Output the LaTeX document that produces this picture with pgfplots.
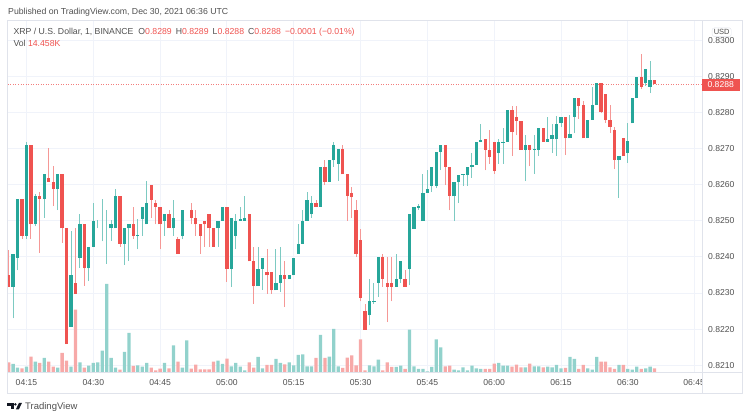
\documentclass[border=0pt]{standalone}
\usepackage{pgfplots}
\pgfplotsset{compat=1.18}
\usepackage{pgfplotstable}
\usepackage{fontspec}
\setmainfont{Liberation Sans}
\definecolor{tvred}{HTML}{EF5350}
\definecolor{tvgreen}{HTML}{26A69A}
\definecolor{gridc}{HTML}{F0F3FA}
\definecolor{borderc}{HTML}{E0E3EB}
\definecolor{txt}{HTML}{505050}
\definecolor{logoc}{HTML}{131722}
\newcommand\fs[1]{\fontsize{#1}{#1}\selectfont}

\pgfplotstableread{
t o h l c v
11 0.82349 0.82420 0.82318 0.82318 37.8
12 0.82318 0.82409 0.82230 0.82409 31.2
13 0.82398 0.82560 0.82363 0.82560 16.8
14 0.82560 0.82560 0.82450 0.82459 14.4
15 0.82459 0.82719 0.82450 0.82710 20.7
16 0.82710 0.82710 0.82450 0.82490 59.7
17 0.82490 0.82575 0.82485 0.82570 40.2
18 0.82570 0.82580 0.82411 0.82560 35.1
19 0.82560 0.82630 0.82509 0.82630 54.6
20 0.82619 0.82701 0.82608 0.82608 40.2
21 0.82608 0.82651 0.82541 0.82588 20.7
22 0.82588 0.82630 0.82530 0.82630 16.8
23 0.82630 0.82630 0.82439 0.82479 74.1
24 0.82479 0.82479 0.82158 0.82158 44.1
25 0.82207 0.82471 0.82207 0.82351 20.7
26 0.82329 0.82480 0.82298 0.82298 243.0
27 0.82398 0.82518 0.82370 0.82490 37.8
28 0.82490 0.82490 0.82320 0.82368 16.8
29 0.82368 0.82428 0.82333 0.82428 24.6
30 0.82428 0.82550 0.82428 0.82501 35.1
31 0.82479 0.82502 0.82479 0.82479 37.8
32 0.82479 0.82560 0.82443 0.82479 83.1
33 0.82479 0.82530 0.82381 0.82479 343.2
34 0.82479 0.82502 0.82445 0.82490 54.6
35 0.82479 0.82588 0.82479 0.82570 16.8
36 0.82570 0.82570 0.82428 0.82437 9.0
37 0.82437 0.82479 0.82379 0.82479 78.0
38 0.82479 0.82490 0.82389 0.82490 152.1
39 0.82490 0.82539 0.82450 0.82459 23.4
40 0.82459 0.82506 0.82421 0.82461 26.1
41 0.82506 0.82539 0.82459 0.82539 20.7
42 0.82490 0.82610 0.82490 0.82550 35.1
43 0.82599 0.82599 0.82509 0.82559 16.8
44 0.82550 0.82559 0.82490 0.82539 6.6
45 0.82539 0.82539 0.82421 0.82490 12.9
46 0.82500 0.82519 0.82459 0.82519 35.1
47 0.82519 0.82530 0.82479 0.82479 14.4
48 0.82479 0.82559 0.82459 0.82509 104.1
49 0.82449 0.82455 0.82409 0.82409 40.2
50 0.82459 0.82530 0.82449 0.82530 16.8
51 0.82530 0.82530 0.82530 0.82530 123.6
52 0.82530 0.82550 0.82490 0.82509 12.9
53 0.82509 0.82530 0.82459 0.82490 28.5
54 0.82490 0.82490 0.82409 0.82459 10.5
55 0.82500 0.82500 0.82428 0.82490 10.5
56 0.82519 0.82519 0.82428 0.82479 10.5
57 0.82479 0.82479 0.82428 0.82428 40.2
58 0.82479 0.82500 0.82428 0.82500 44.1
59 0.82500 0.82539 0.82500 0.82539 31.2
60 0.82539 0.82539 0.82331 0.82367 51.9
61 0.82367 0.82509 0.82317 0.82509 22.2
62 0.82459 0.82518 0.82421 0.82500 35.1
63 0.82500 0.82539 0.82500 0.82506 20.7
64 0.82500 0.82570 0.82500 0.82509 6.6
65 0.82518 0.82518 0.82388 0.82388 37.8
66 0.82389 0.82428 0.82270 0.82319 16.8
67 0.82319 0.82428 0.82319 0.82367 58.5
68 0.82367 0.82398 0.82309 0.82398 14.4
69 0.82358 0.82421 0.82298 0.82349 27.3
70 0.82358 0.82358 0.82298 0.82307 27.3
71 0.82307 0.82421 0.82307 0.82329 50.7
72 0.82329 0.82428 0.82303 0.82349 35.1
73 0.82349 0.82389 0.82261 0.82338 30.0
74 0.82338 0.82349 0.82338 0.82349 37.8
75 0.82349 0.82398 0.82349 0.82398 26.1
76 0.82409 0.82490 0.82409 0.82437 66.3
77 0.82437 0.82530 0.82437 0.82500 69.0
78 0.82500 0.82580 0.82500 0.82559 22.2
79 0.82518 0.82570 0.82509 0.82550 22.2
80 0.82550 0.82559 0.82539 0.82539 54.6
81 0.82539 0.82650 0.82539 0.82650 144.3
82 0.82650 0.82668 0.82599 0.82608 54.6
83 0.82608 0.82668 0.82608 0.82668 59.7
84 0.82668 0.82719 0.82650 0.82710 167.7
85 0.82659 0.82698 0.82611 0.82698 22.2
86 0.82698 0.82710 0.82629 0.82629 15.6
87 0.82629 0.82629 0.82500 0.82570 55.8
88 0.82578 0.82594 0.82509 0.82565 65.1
89 0.82529 0.82559 0.82400 0.82409 26.1
90 0.82448 0.82478 0.82277 0.82287 127.5
91 0.82249 0.82270 0.82198 0.82198 6.6
92 0.82238 0.82340 0.82210 0.82278 26.1
93 0.82275 0.82328 0.82270 0.82279 22.2
94 0.82328 0.82400 0.82289 0.82400 48.0
95 0.82400 0.82409 0.82318 0.82340 6.6
96 0.82328 0.82400 0.82219 0.82318 37.8
97 0.82328 0.82400 0.82277 0.82318 19.5
98 0.82318 0.82409 0.82318 0.82340 19.5
99 0.82340 0.82389 0.82328 0.82389 24.6
100 0.82340 0.82363 0.82318 0.82318 11.7
101 0.82367 0.82518 0.82321 0.82518 165.0
102 0.82478 0.82539 0.82478 0.82539 22.2
103 0.82537 0.82547 0.82530 0.82541 11.7
104 0.82499 0.82631 0.82499 0.82578 11.7
105 0.82578 0.82640 0.82578 0.82589 2.7
106 0.82597 0.82650 0.82580 0.82650 19.5
107 0.82597 0.82691 0.82590 0.82691 127.5
108 0.82691 0.82710 0.82641 0.82710 96.3
109 0.82710 0.82710 0.82599 0.82650 22.2
110 0.82650 0.82650 0.82529 0.82570 24.6
111 0.82568 0.82607 0.82499 0.82607 9.0
112 0.82607 0.82628 0.82549 0.82628 6.6
113 0.82628 0.82630 0.82598 0.82630 18.3
114 0.82628 0.82649 0.82598 0.82649 6.6
115 0.82649 0.82688 0.82619 0.82656 24.6
116 0.82656 0.82720 0.82656 0.82720 14.4
117 0.82720 0.82769 0.82718 0.82723 11.7
118 0.82726 0.82726 0.82640 0.82697 11.7
119 0.82697 0.82751 0.82658 0.82677 11.7
120 0.82719 0.82719 0.82631 0.82638 32.4
121 0.82688 0.82726 0.82658 0.82719 35.1
122 0.82719 0.82757 0.82658 0.82720 24.6
123 0.82719 0.82808 0.82719 0.82808 24.6
124 0.82808 0.82818 0.82681 0.82746 20.7
125 0.82788 0.82818 0.82737 0.82777 28.5
126 0.82777 0.82777 0.82697 0.82697 18.3
127 0.82697 0.82737 0.82610 0.82709 18.3
128 0.82709 0.82709 0.82651 0.82697 32.4
129 0.82697 0.82737 0.82631 0.82700 22.2
130 0.82697 0.82757 0.82680 0.82757 22.2
131 0.82757 0.82757 0.82719 0.82719 18.3
132 0.82719 0.82788 0.82719 0.82726 20.7
133 0.82726 0.82769 0.82688 0.82737 18.3
134 0.82726 0.82790 0.82680 0.82769 27.3
135 0.82771 0.82789 0.82760 0.82789 14.4
136 0.82789 0.82789 0.82682 0.82729 15.6
137 0.82729 0.82793 0.82729 0.82740 58.5
138 0.82789 0.82842 0.82743 0.82842 50.7
139 0.82842 0.82842 0.82783 0.82819 11.7
140 0.82821 0.82832 0.82729 0.82729 27.3
141 0.82729 0.82781 0.82729 0.82781 14.4
142 0.82781 0.82872 0.82781 0.82821 9.0
143 0.82821 0.82881 0.82821 0.82881 58.5
144 0.82881 0.82881 0.82798 0.82802 40.2
145 0.82851 0.82851 0.82772 0.82781 40.2
146 0.82781 0.82820 0.82743 0.82761 18.3
147 0.82752 0.82761 0.82643 0.82670 11.7
148 0.82670 0.82681 0.82564 0.82681 27.3
149 0.82729 0.82729 0.82680 0.82680 27.3
150 0.82689 0.82772 0.82661 0.82721 11.7
151 0.82770 0.82842 0.82770 0.82842 9.0
152 0.82842 0.82900 0.82842 0.82900 20.7
153 0.82900 0.82962 0.82865 0.82872 11.7
154 0.82881 0.82922 0.82874 0.82922 14.4
155 0.82872 0.82942 0.82854 0.82890 20.7
156 0.82890 0.82890 0.82880 0.82880 14.458
}\candles

\pgfplotsset{
  tvbase/.style={at={(8pt,47pt)}, anchor=south west, scale only axis,
    width=694pt, height=351.3pt, xmin=10.85, xmax=166.65},
  upc/.style={restrict expr to domain={\thisrow{c}-\thisrow{o}}{0:1}},
  dnc/.style={restrict expr to domain={\thisrow{o}-\thisrow{c}}{0.0000001:1}},
}

\begin{document}
\begin{tikzpicture}[x=1pt,y=1pt]
\path (0,0) rectangle (750,419);
% grid + tick labels
\begin{axis}[tvbase, ymin=0.82081, ymax=0.83055,
  axis line style={draw=none}, major tick length=0pt,
  xtick={15,30,45,60,75,90,105,120,135,150,165},
  xticklabels={04:15,04:30,04:45,05:00,05:15,05:30,05:45,06:00,06:15,06:30,{}},
  ytick={0.821,0.822,0.823,0.824,0.825,0.826,0.827,0.828,0.829,0.830},
  yticklabels={0.8210,0.8220,0.8230,0.8240,0.8250,0.8260,0.8270,0.8280,0.8290,0.8300},
  yticklabel pos=right,
  grid=major, major grid style={draw=gridc, line width=0.9pt},
  xticklabel style={font=\fs{8.6}, text=txt, anchor=center, yshift=-10.3pt},
  yticklabel style={font=\fs{8.6}, text=txt, anchor=west, inner sep=0pt, xshift=6pt},
]
\addplot[draw=none, forget plot] coordinates {(20,0.825)};
\end{axis}
% volume
\begin{axis}[tvbase, ymin=0, ymax=1370, hide axis]
\addplot[ybar, bar width=3.3pt, bar shift=0pt, draw=none, fill=tvgreen!50, upc] table[x=t, y=v] {\candles};
\addplot[ybar, bar width=3.3pt, bar shift=0pt, draw=none, fill=tvred!50, dnc] table[x=t, y=v] {\candles};
\end{axis}
% candles
\begin{axis}[tvbase, ymin=0.82081, ymax=0.83055, hide axis]
\addplot[tvred!75, dash pattern=on 1pt off 1.5pt, line width=0.6pt] coordinates {(10.85,0.8288) (166.65,0.8288)};
% wicks
\addplot[draw=none, mark=none, upc, error bars/.cd, y dir=plus, y explicit, error mark=none,
  error bar style={draw=tvgreen!60, solid, line width=1pt}]
  table[x=t, y=l, y error expr=\thisrow{h}-\thisrow{l}] {\candles};
\addplot[draw=none, mark=none, dnc, error bars/.cd, y dir=plus, y explicit, error mark=none,
  error bar style={draw=tvred!60, solid, line width=1pt}]
  table[x=t, y=l, y error expr=\thisrow{h}-\thisrow{l}] {\candles};
% bodies
\addplot[draw=none, mark=none, upc, error bars/.cd, y dir=plus, y explicit, error mark=none,
  error bar style={draw=tvgreen, solid, line width=3.3pt}]
  table[x=t, y=o, y error expr=\thisrow{c}-\thisrow{o}] {\candles};
\addplot[draw=none, mark=none, dnc, error bars/.cd, y dir=plus, y explicit, error mark=none,
  error bar style={draw=tvred, solid, line width=3.3pt}]
  table[x=t, y=c, y error expr=\thisrow{o}-\thisrow{c}] {\candles};
\end{axis}
% frame and separators
\draw[borderc, line width=0.9pt] (7.5,26) rectangle (742,398.3);
\draw[borderc, line width=0.9pt] (702,26) -- (702,398.3);
\draw[borderc, line width=0.9pt] (7.5,47) -- (742,47);
% clipped last time label
\begin{scope}
\clip (8,0) rectangle (701.5,419);
\node[font=\fs{8.6}, text=txt] at (694.1,36.7) {06:45};
\end{scope}
% USD box
\node[draw=borderc, rounded corners=2pt, fill=white, font=\fs{7.5}, text=txt, inner sep=1.6pt] at (721.7,386.8) {USD};
% last price label
\node[fill=tvred, text=white, font=\fs{8.6}, minimum width=37.6pt, minimum height=11.7pt, inner sep=0pt, anchor=west] at (701.7,334.2) {0.8288};
% header
\node[anchor=base west, inner sep=0pt, font=\fs{8.7}, text=txt] at (8,404.8) {Published on TradingView.com, Dec 30, 2021 06:36 UTC};
\node[anchor=base west, inner sep=0pt, font=\fs{8.7}, text=txt] at (13.3,384.7)
  {XRP / U.S. Dollar, 1, BINANCE\hspace{5pt}O\textcolor{tvred}{0.8289}\hspace{4pt}H\textcolor{tvred}{0.8289}\hspace{4pt}L\textcolor{tvred}{0.8288}\hspace{4pt}C\textcolor{tvred}{0.8288}\hspace{4pt}\textcolor{tvred}{−0.0001 (−0.01\%)}};
\node[anchor=base west, inner sep=0pt, font=\fs{8.7}, text=txt] at (13.3,372.3) {Vol \textcolor{tvred}{14.458K}};
% logo
\fill[logoc] (7.3,16) rectangle (13.7,13.4);
\fill[logoc] (10.8,13.4) rectangle (13.7,9.7);
\fill[logoc] (15.4,14.6) circle (1.3);
\fill[logoc] (18.9,16) -- (21.9,16) -- (18.9,9.7) -- (15.9,9.7) -- cycle;
\node[anchor=base west, inner sep=0pt, font=\fs{9.5}, text=txt] at (25,9.2) {TradingView};
\end{tikzpicture}
\end{document}
